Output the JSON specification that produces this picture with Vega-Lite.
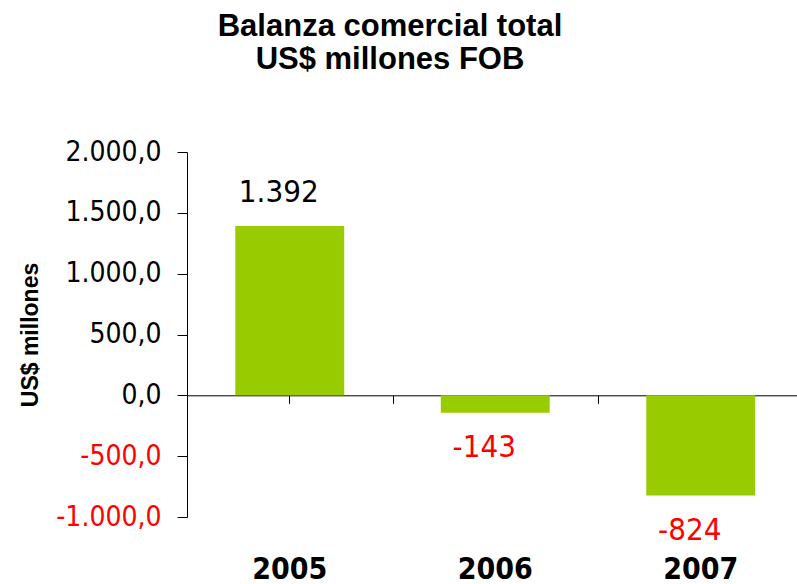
{
  "$schema": "https://vega.github.io/schema/vega-lite/v6.json",
  "width": 610,
  "height": 365,
  "autosize": "none",
  "padding": {"left": 187, "top": 152, "right": 0, "bottom": 67},
  "config": {
    "view": {"stroke": null},
    "locale": {"number": {"decimal": ",", "thousands": ".", "grouping": [3], "currency": ["$", ""], "minus": "-"}},
    "axis": {"domainColor": "#000", "tickColor": "#000", "grid": false}
  },
  "title": {
    "text": ["Balanza comercial total", "US$ millones FOB"],
    "font": "Liberation Sans",
    "fontSize": 31,
    "fontWeight": "bold",
    "color": "#000",
    "anchor": "middle",
    "frame": "group",
    "dx": -102,
    "offset": 38,
    "baseline": "alphabetic",
    "lineHeight": 33
  },
  "data": {"values": [
    {"year": "2005", "value": 1392},
    {"year": "2006", "value": -143},
    {"year": "2007", "value": -824}
  ]},
  "layer": [
    {
      "mark": {"type": "bar", "color": "#99CC00", "width": {"band": 0.53}},
      "encoding": {
        "x": {
          "field": "year", "type": "ordinal",
          "scale": {"range": [0, 616.5], "paddingInner": 0, "paddingOuter": 0},
          "axis": {"orient": "bottom", "title": null, "domain": false, "ticks": false, "labelAngle": 0,
            "labelFont": "DejaVu Sans Condensed", "labelFontWeight": "bold", "labelFontSize": 30,
            "labelColor": "#000", "labelBaseline": "alphabetic", "labelPadding": 61}
        },
        "y": {
          "field": "value", "type": "quantitative",
          "scale": {"domain": [-1000, 2000], "nice": false, "zero": false},
          "axis": {
            "title": "US$ millones", "titleFont": "Liberation Sans", "titleFontWeight": "bold", "titleFontSize": 23,
            "titleColor": "#000", "titleX": -157, "titleY": 182.5, "titleAngle": 270, "titleBaseline": "middle", "titleAlign": "center",
            "values": [-1000, -500, 0, 500, 1000, 1500, 2000], "format": ",.1f",
            "labelFont": "DejaVu Sans Condensed", "labelFontSize": 28,
            "labelColor": {"condition": {"test": "datum.value < 0", "value": "#FF0000"}, "value": "#000"},
            "tickSize": 10, "labelPadding": 16
          }
        }
      }
    },
    {
      "transform": [{"filter": "datum.value >= 0"}],
      "mark": {"type": "text", "baseline": "alphabetic", "dy": -24, "dx": -11, "font": "DejaVu Sans Condensed", "fontSize": 31, "color": "#000"},
      "encoding": {
        "x": {"field": "year", "type": "ordinal",
          "axis": {"orient": "bottom", "offset": -121.7, "labels": false, "title": null, "domain": true, "ticks": true, "tickSize": 8, "tickBand": "center"}},
        "y": {"field": "value", "type": "quantitative"},
        "text": {"field": "value", "type": "quantitative", "format": ",.0f"}
      }
    },
    {
      "transform": [{"filter": "datum.value < 0"}],
      "mark": {"type": "text", "baseline": "alphabetic", "dy": 44, "dx": -11, "font": "DejaVu Sans Condensed", "fontSize": 31, "color": "#FF0000"},
      "encoding": {
        "x": {"field": "year", "type": "ordinal",
          "axis": {"orient": "bottom", "offset": -121.7, "labels": false, "title": null, "domain": false, "ticks": true, "tickSize": 8, "tickBand": "extent"}},
        "y": {"field": "value", "type": "quantitative"},
        "text": {"field": "value", "type": "quantitative", "format": ",.0f"}
      }
    }
  ],
  "resolve": {"axis": {"x": "independent"}}
}
